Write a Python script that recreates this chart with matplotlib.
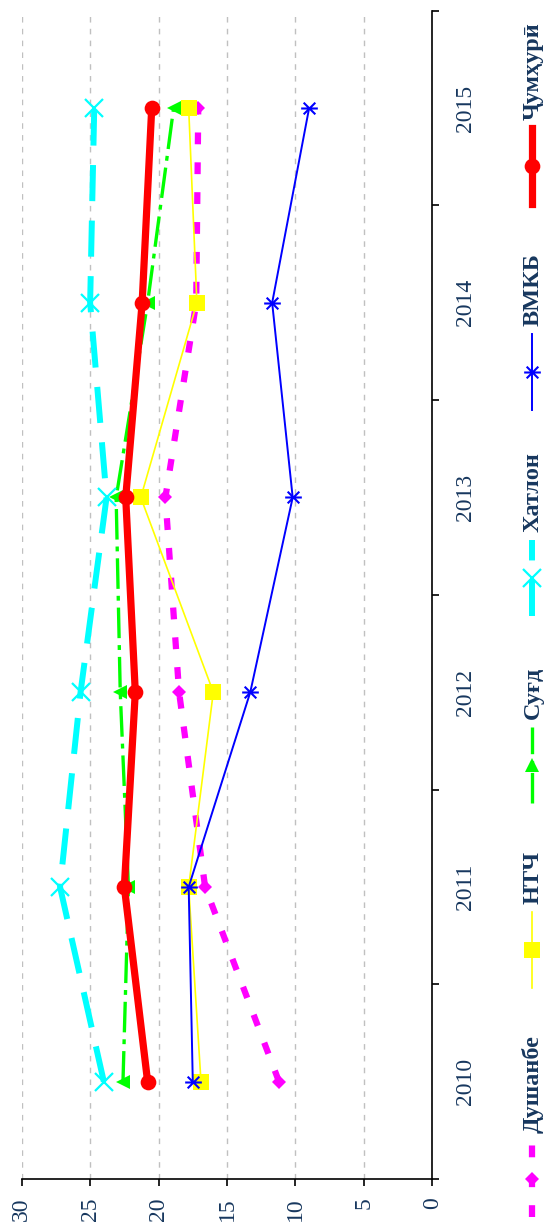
import numpy as np
import matplotlib
matplotlib.use('Agg')
import matplotlib.pyplot as plt
from matplotlib.path import Path

plt.rcParams['lines.scale_dashes'] = False

# data
years = ['2010', '2011', '2012', '2013', '2014', '2015']
labels = ['Душанбе', 'НТЧ', 'Суғд', 'Хатлон', 'ВМКБ', 'Ҷумҳурӣ']
dushanbe = [11.2, 16.6, 18.5, 19.5, 17.25, 17.1]
ntch = [16.9, 17.8, 16.0, 21.3, 17.2, 17.8]
sugd = [22.6, 22.2, 22.8, 23.1, 20.8, 18.9]
khatlon = [24.0, 27.2, 25.7, 23.8, 25.0, 24.7]
vmkb = [17.5, 17.8, 13.3, 10.2, 11.7, 9.0]
respublika = [20.8, 22.5, 21.7, 22.4, 21.2, 20.5]

txt_color = '#17375E'
serif = ['Liberation Serif', 'DejaVu Serif']

# asterisk marker (x with a horizontal bar)
star = Path([(-1, 0), (1, 0), (-0.7, -0.7), (0.7, 0.7), (-0.7, 0.7), (0.7, -0.7)],
            [Path.MOVETO, Path.LINETO] * 3)

styles = [
    dict(color='#FF00FF', lw=4.5, dashes=(8.5, 13), marker='D', ms=7.5, mew=0),
    dict(color='#FFFF00', lw=1.2, ls='-', marker='s', ms=11.5, mew=0),
    dict(color='#00FF00', lw=2.4, dashes=(22, 5, 3.5, 5), marker='<', ms=10, mew=0),
    dict(color='#00FFFF', lw=4.3, dashes=(26, 14), marker='x', ms=12.5, mew=1.6),
    dict(color='#0000FF', lw=1.4, ls='-', marker=star, ms=12, mew=1.5),
    dict(color='#FF0000', lw=5.2, ls='-', marker='o', ms=11.3, mew=0),
]
series = [dushanbe, ntch, sugd, khatlon, vmkb, respublika]

fig = plt.figure(figsize=(5.47, 12.23), dpi=100)
ax = fig.add_axes([21.7 / 547, 1 - 1179 / 1223, (432.3 - 21.7) / 547, (1179 - 10.7) / 1223])

pos = np.arange(len(years))
for vals, st in zip(series, styles):
    ax.plot(vals, pos, markeredgecolor=st['color'], markerfacecolor=st['color'], **st)

ax.set_xlim(30, 0)
ax.set_ylim(-0.5, len(years) - 0.5)
ax.set_xticks(np.arange(0, 31, 5))
ax.xaxis.grid(True, color='#C0C0C0', lw=1, dashes=(4, 4.5))
ax.set_axisbelow(True)

ax.yaxis.tick_right()
ax.set_yticks(np.arange(-0.5, len(years), 1))
ax.set_yticklabels([])
ax.set_yticks(pos, minor=True)
ax.set_yticklabels(years, minor=True, rotation=90, va='center', ha='left',
                   family=serif, fontsize=17, color=txt_color)
ax.tick_params(axis='y', which='minor', length=0, pad=16)
ax.tick_params(axis='y', which='major', length=5, width=1.2, direction='out')
ax.tick_params(axis='x', length=5, width=1.2, direction='out', pad=8,
               labelrotation=90, labelsize=17, labelcolor=txt_color)
for t in ax.get_xticklabels():
    t.set_family(serif)

ax.spines['left'].set_visible(False)
ax.spines['top'].set_visible(False)
ax.spines['right'].set_linewidth(1.2)
ax.spines['bottom'].set_linewidth(1.2)

# legend drawn rotated, in pixel coordinates
lax = fig.add_axes([0, 0, 1, 1])
lax.set_xlim(0, 547)
lax.set_ylim(1223, 0)
lax.axis('off')
leg_x = 532
leg_centers = [1179, 950, 765, 578, 372, 166]
for lab, st, cy in zip(labels, styles, leg_centers):
    st2 = dict(st)
    if st2['marker'] == '<':
        st2['marker'] = '^'
    lax.plot([leg_x, leg_x], [cy + 38, cy - 38], marker='None',
             **{k: v for k, v in st2.items() if k not in ('marker', 'ms', 'mew')})
    lax.plot([leg_x], [cy], ls='none', marker=st2['marker'], ms=st2['ms'], mew=st2['mew'],
             color=st2['color'], markeredgecolor=st2['color'])
    lax.text(leg_x + 1, cy - 46, lab, rotation=90, ha='center', va='bottom',
             family=serif, fontweight='bold', fontsize=17.5, color=txt_color)

fig.savefig('out.png', dpi=100)
